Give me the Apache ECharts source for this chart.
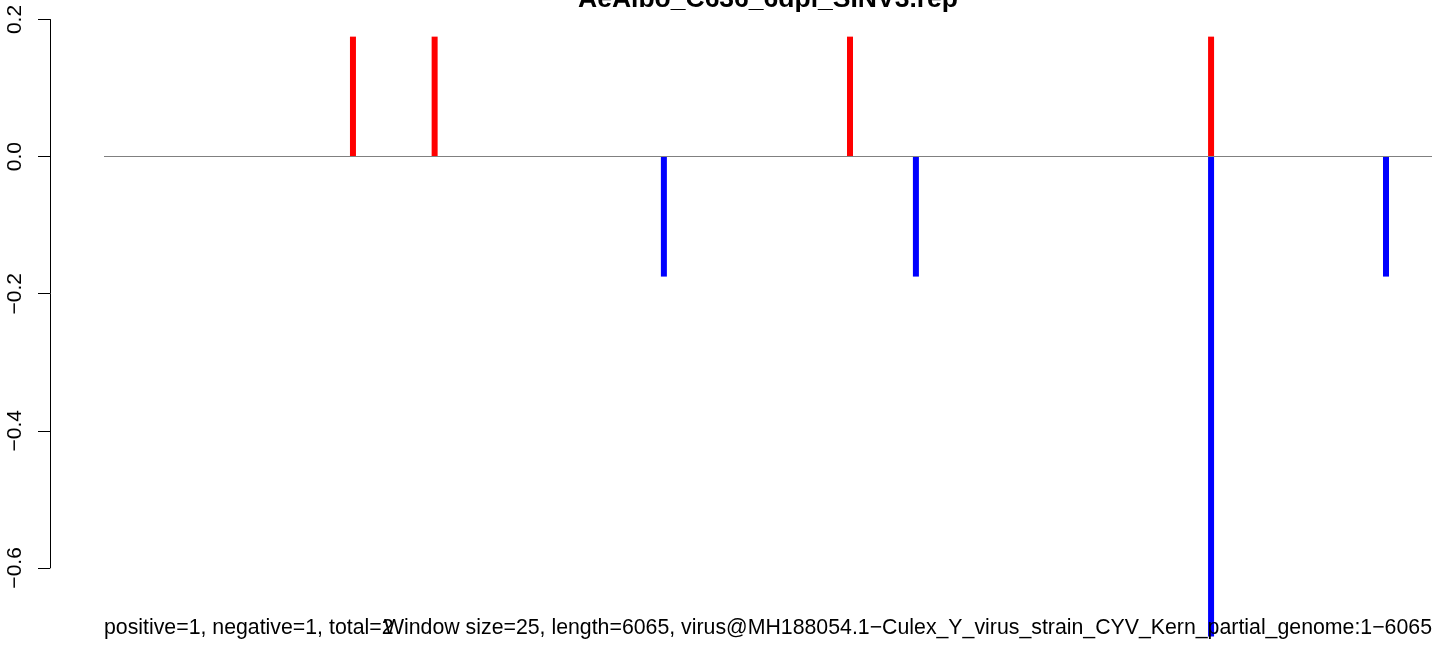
<!DOCTYPE html>
<html>
<head>
<meta charset="utf-8">
<script src="https://cdn.jsdelivr.net/npm/echarts@6/dist/echarts.min.js"></script>
<style>
  html, body { margin: 0; padding: 0; background: #fff; }
  #chart { width: 1444px; height: 646px; }
</style>
</head>
<body>
<div id="chart"></div>
<script>
// genome position, window score
const plusPos = [1137, 1510, 3407, 5056]
const plusVal = [0.175, 0.175, 0.175, 0.175]
const minusPos = [2557, 3708, 5056, 5855]
const minusVal = [-0.175, -0.175, -0.70, -0.175]
const yTicks = [-0.6, -0.4, -0.2, 0.0, 0.2]

const mainTitle = 'AeAlbo_C636_6dpi_SINV3.rep'
const countText = 'positive=1, negative=1, total=2'
const infoText = 'Window size=25, length=6065, virus@MH188054.1\u2212Culex_Y_virus_strain_CYV_Kern_partial_genome:1\u22126065'
const seqLength = 6065

const font = '"Liberation Sans", Arial, Helvetica, sans-serif'

function fmt (v) {
  if (Math.abs(v) < 1e-9) return '0.0'
  return v.toFixed(1).replace('-', '\u2212')
}

const chart = echarts.init(document.getElementById('chart'))

const option = {
  animation: false,
  backgroundColor: '#fff',
  textStyle: { fontFamily: font },
  title: [
    {
      text: mainTitle,
      left: 768,
      textAlign: 'center',
      top: -14,
      padding: 0,
      textStyle: { fontSize: 26.5, fontWeight: 'bold', color: '#000', fontFamily: font }
    },
    {
      text: countText,
      left: 104,
      top: 618,
      padding: 0,
      textStyle: { fontSize: 21.3, fontWeight: 'normal', color: '#000', fontFamily: font }
    },
    {
      text: infoText,
      right: 12,
      top: 618,
      padding: 0,
      textStyle: { fontSize: 21.3, fontWeight: 'normal', color: '#000', fontFamily: font }
    }
  ],
  grid: [
    // data area
    { left: 104, right: 12, top: 19.5, height: 617 },
    // only carries the left axis (R draws it from first to last tick)
    { left: 50, right: 12, top: 19.5, height: 548.4 }
  ],
  xAxis: [
    { type: 'value', gridIndex: 0, min: 0, max: seqLength, show: false },
    { type: 'value', gridIndex: 1, min: 0, max: 1, show: false }
  ],
  yAxis: [
    { type: 'value', gridIndex: 0, min: -0.7, max: 0.2, show: false },
    {
      type: 'value',
      gridIndex: 1,
      min: yTicks[0],
      max: yTicks[yTicks.length - 1],
      interval: 0.2,
      splitLine: { show: false },
      axisLine: { show: true, lineStyle: { color: '#000', width: 1 } },
      axisTick: { show: true, length: 12, lineStyle: { color: '#000', width: 1 } },
      axisLabel: {
        rotate: 90,
        margin: 24,
        fontSize: 21,
        color: '#000',
        fontFamily: font,
        formatter: fmt
      }
    }
  ],
  series: [
    {
      type: 'bar',
      name: 'positive',
      xAxisIndex: 0,
      yAxisIndex: 0,
      barWidth: 6,
      barGap: '-100%',
      itemStyle: { color: '#ff0000' },
      data: plusPos.map((p, i) => [p, plusVal[i]]),
      markLine: {
        silent: true,
        symbol: ['none', 'none'],
        label: { show: false },
        lineStyle: { color: '#808080', width: 1, type: 'solid' },
        data: [{ yAxis: 0 }]
      }
    },
    {
      type: 'bar',
      name: 'negative',
      xAxisIndex: 0,
      yAxisIndex: 0,
      barWidth: 6,
      barGap: '-100%',
      itemStyle: { color: '#0000ff' },
      data: minusPos.map((p, i) => [p, minusVal[i]])
    }
  ]
}

chart.setOption(option)
</script>
</body>
</html>
